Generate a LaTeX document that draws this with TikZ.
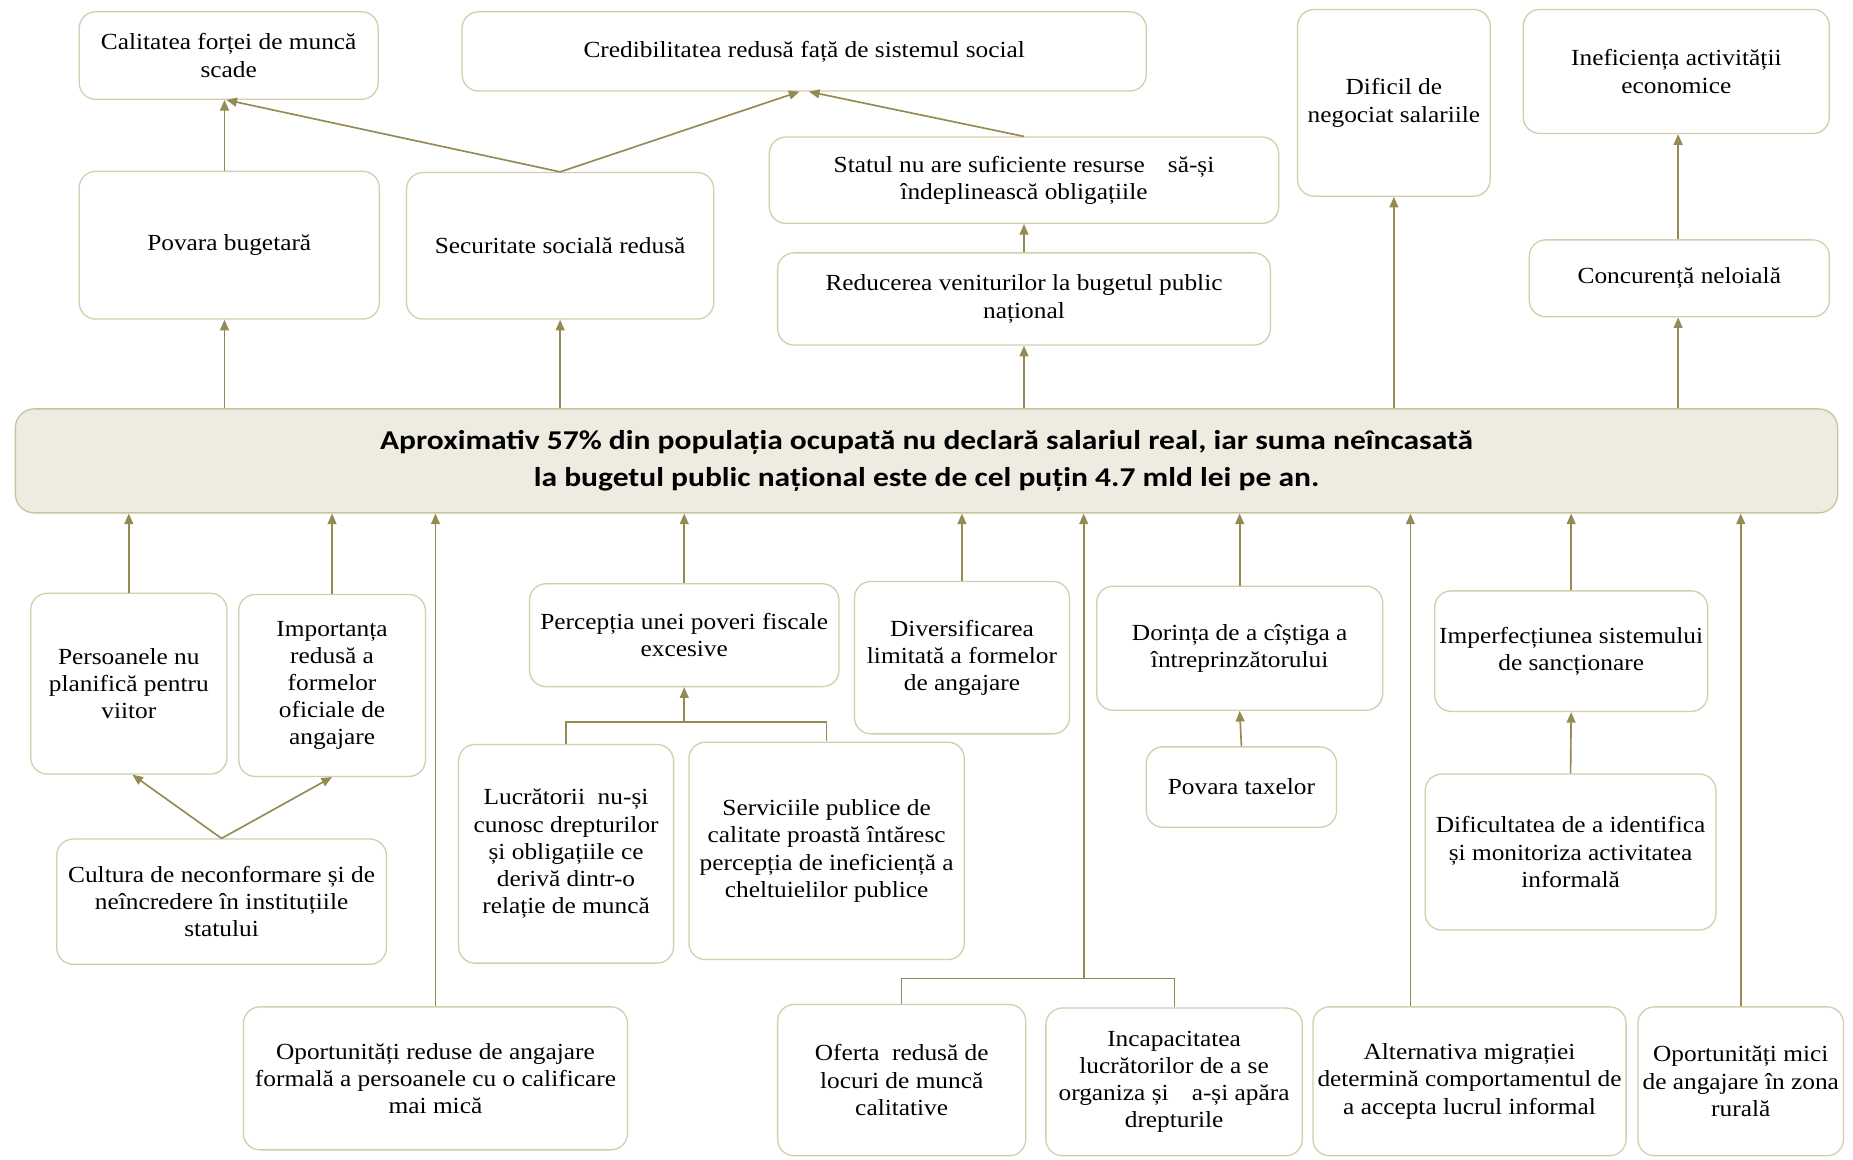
\documentclass[tikz,border=0pt]{standalone}
\usepackage{fontspec}
\setmainfont{Liberation Serif}[FakeStretch=1.1]
\newfontfamily\carl{Carlito}[FakeStretch=1.16]
\usetikzlibrary{arrows.meta}
\definecolor{boxc}{HTML}{D3CEAD}
\definecolor{arrc}{HTML}{948A54}
\definecolor{mainfill}{HTML}{EEECE1}
\definecolor{mainline}{HTML}{C9C3A0}
\newcommand\mkbox[6]{\node[bx, minimum width={#3-#2}, minimum height={#5-#4}] (#1) at ({(#2+#3)/2},{(#4+#5)/2}) {#6};}
\begin{document}
\begin{tikzpicture}[x=1pt,y=-1pt,
 bx/.style={draw=boxc, line width=1.1pt, rounded corners=14pt, fill=white, align=center, inner sep=0pt, font=\fontsize{19.5}{23}\selectfont},
 mainbox/.style={draw=mainline, line width=1.1pt, rounded corners=16pt, fill=mainfill, align=center, inner sep=0pt, font=\carl\bfseries\fontsize{23}{32}\selectfont},
 arr/.style={draw=arrc, line width=1.4pt, -{Triangle[length=9pt,width=7.5pt]}},
 ln/.style={draw=arrc, line width=1pt}]
\useasboundingbox (0,0) rectangle (1568,981);
\fill[white] (0,0) rectangle (1568,981);

% top area
\mkbox{cal}{67}{320}{10}{84}{Calitatea forței de muncă\\scade}
\mkbox{cred}{391}{970}{10}{77}{Credibilitatea redusă față de sistemul social}
\mkbox{dif}{1098}{1261}{8}{166}{Dificil de\\negociat salariile}
\mkbox{inef}{1289}{1548}{8}{113}{Ineficiența activității\\economice}
\mkbox{pov}{67}{321}{145}{270}{Povara bugetară}
\mkbox{sec}{344}{604}{146}{270}{Securitate socială redusă}
\mkbox{stat}{651}{1082}{116}{189}{Statul nu are suficiente resurse\hspace{1em}să-și\\îndeplinească obligațiile}
\mkbox{red}{658}{1075}{214}{292}{Reducerea veniturilor la bugetul public\\național}
\mkbox{conc}{1294}{1548}{203}{268}{Concurență neloială}

% central
\node[mainbox, minimum width=1542, minimum height=88] (main) at (784,390)
 {Aproximativ 57\% din populația ocupată nu declară salariul real, iar suma neîncasată\\la bugetul public național este de cel puțin 4.7 mld lei pe an.};

% bottom area
\mkbox{pers}{26}{192}{502}{655}{Persoanele nu\\planifică pentru\\viitor}
\mkbox{imp}{202}{360}{503}{657}{Importanța\\redusă a\\formelor\\oficiale de\\angajare}
\mkbox{cult}{48}{327}{710}{816}{Cultura de neconformare și de\\neîncredere în instituțiile\\statului}
\mkbox{perc}{448}{710}{494}{581}{Percepția unei poveri fiscale\\excesive}
\mkbox{lucr}{388}{570}{630}{815}{Lucrătorii\ \ nu-și\\cunosc drepturilor\\și obligațiile ce\\derivă dintr-o\\relație de muncă}
\mkbox{serv}{583}{816}{628}{812}{Serviciile publice de\\calitate proastă întăresc\\percepția de ineficiență a\\cheltuielilor publice}
\mkbox{div}{723}{905}{492}{621}{Diversificarea\\limitată a formelor\\de angajare}
\mkbox{dor}{928}{1170}{496}{601}{Dorința de a cîștiga a\\întreprinzătorului}
\mkbox{taxe}{970}{1131}{632}{700}{Povara taxelor}
\mkbox{imperf}{1214}{1445}{500}{602}{Imperfecțiunea sistemului\\de sancționare}
\mkbox{dific}{1206}{1452}{655}{787}{Dificultatea de a identifica\\și monitoriza activitatea\\informală}
\mkbox{opr}{206}{531}{852}{973}{Oportunități reduse de angajare\\formală a persoanele cu o calificare\\mai mică}
\mkbox{ofer}{658}{868}{850}{978}{Oferta\ \ redusă de\\locuri de muncă\\calitative}
\mkbox{incap}{885}{1102}{853}{978}{Incapacitatea\\lucrătorilor de a se\\organiza și\hspace{1em}a-și apăra\\drepturile}
\mkbox{alt}{1111}{1376}{852}{978}{Alternativa migrației\\determină comportamentul de\\a accepta lucrul informal}
\mkbox{opm}{1386}{1560}{852}{978}{Oportunități mici\\de angajare în zona\\rurală}

% connectors: top area
\coordinate (povx) at ([xshift=-4]pov.north);
\draw[arr] (povx) -- (povx |- cal.south);
\draw[arr] (sec.north) -- ([xshift=-2]cal.south);
\draw[arr] (sec.north) -- ([xshift=-4]cred.south);
\draw[arr] (stat.north) -- ([xshift=4]cred.south);
\draw[arr] (red.north) -- (stat.south);
\coordinate (concx) at ([xshift=-1]conc.north);
\draw[arr] (concx) -- (concx |- inef.south);

% connectors: main up
\draw[arr] (povx |- main.north) -- (povx |- pov.south);
\draw[arr] (sec.south |- main.north) -- (sec.south);
\draw[arr] (red.south |- main.north) -- (red.south);
\draw[arr] (dif.south |- main.north) -- (dif.south);
\draw[arr] (concx |- main.north) -- (concx |- conc.south);

% connectors: into main from below
\draw[arr] (pers.north) -- (pers.north |- main.south);
\draw[arr] (imp.north) -- (imp.north |- main.south);
\draw[arr] (opr.north) -- (opr.north |- main.south);
\draw[arr] (perc.north) -- (perc.north |- main.south);
\draw[arr] (div.north) -- (div.north |- main.south);
\draw[arr] (dor.north) -- (dor.north |- main.south);
\draw[arr] (imperf.north) -- (imperf.north |- main.south);
\coordinate (altn) at ([xshift=-50]alt.north);
\draw[arr] (altn) -- (altn |- main.south);
\draw[arr] (opm.north) -- (opm.north |- main.south);

% junctions
\coordinate (j1) at (917,828);
\draw[ln] (ofer.north) |- (j1) -| (incap.north);
\draw[arr] (j1) -- (j1 |- main.south);
\coordinate (j2) at (579,611);
\draw[ln] (lucr.north) |- (j2) -| (serv.north);
\draw[arr] (j2) -- (perc.south);

% lower arrows
\draw[arr] (cult.north) -- ([xshift=3]pers.south);
\draw[arr] (cult.north) -- (imp.south);
\draw[arr] (taxe.north) -- (dor.south);
\draw[arr] (dific.north) -- (imperf.south);
\end{tikzpicture}
\end{document}
